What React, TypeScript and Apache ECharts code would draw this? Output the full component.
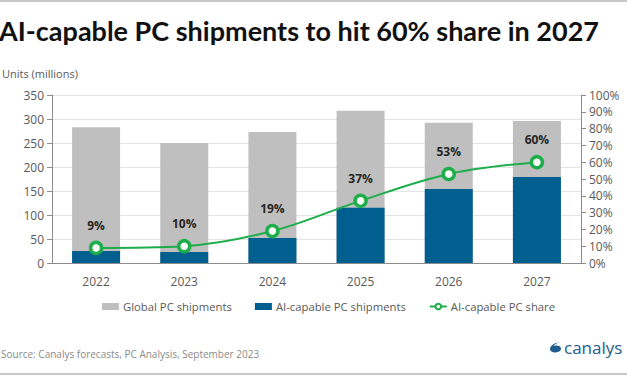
import React, { useEffect, useRef } from "react";
import * as echarts from "echarts";

const categories = ["2022", "2023", "2024", "2025", "2026", "2027"];
const globalShipments = [283, 250, 273, 317, 292, 296];
const aiShipments = [25, 23, 52, 115, 154, 179];
const aiShare = [9, 10, 19, 37, 53, 60];

const logoPath =
  "M10 0 C4 1 0 5 0 9 C0 11.5 2.5 13 5.5 13 C9 13 11 11 11 8.5 C11 6 9 4.5 6.5 4.5 C5 4.5 4 5 3.3 5.6 C4.5 3 7 1.2 10 0 Z";

export default function App() {
  const ref = useRef<HTMLDivElement>(null);
  useEffect(() => {
    if (!ref.current) return;
    echarts.graphic.registerShape("logo", echarts.graphic.extendPath(logoPath, {}) as any);
    const chart = echarts.init(ref.current, null, { renderer: "svg" });
    const axisTextColor = "#595959";
    const font = "'Open Sans', sans-serif";
    chart.setOption({
      animation: false,
      backgroundColor: "#ffffff",
      textStyle: { fontFamily: font },
      grid: { left: 52, right: 46, top: 95, bottom: 113 },
      xAxis: {
        type: "category",
        data: categories,
        boundaryGap: true,
        axisLine: { lineStyle: { color: "#8c8c8c", width: 1 } },
        axisTick: { show: false },
        axisLabel: { color: axisTextColor, fontSize: 12, margin: 12, fontFamily: font },
      },
      yAxis: [
        {
          type: "value",
          min: 0,
          max: 350,
          interval: 50,
          axisLine: { show: true, lineStyle: { color: "#8c8c8c" } },
          axisTick: { show: true, inside: false, length: 5, lineStyle: { color: "#8c8c8c" } },
          axisLabel: { color: axisTextColor, fontSize: 12, margin: 8, fontFamily: font },
          splitLine: { show: true, lineStyle: { color: "#e4e4e4", width: 1 } },
        },
        {
          type: "value",
          min: 0,
          max: 100,
          interval: 10,
          position: "right",
          axisLine: { show: true, lineStyle: { color: "#8c8c8c" } },
          axisTick: { show: true, length: 5, lineStyle: { color: "#8c8c8c" } },
          axisLabel: { color: axisTextColor, fontSize: 12, margin: 8, formatter: "{value}%", fontFamily: font },
          splitLine: { show: false },
        },
      ],
      legend: {
        left: 97,
        top: 296,
        itemWidth: 17,
        itemHeight: 7,
        itemGap: 23,
        textStyle: { color: axisTextColor, fontSize: 11.3, fontFamily: font, padding: [0, 0, 0, -1] },
        data: [
          { name: "Global PC shipments", icon: "rect" },
          { name: "AI-capable PC shipments", icon: "rect" },
          { name: "AI-capable PC share" },
        ],
      },
      series: [
        {
          name: "Global PC shipments",
          type: "bar",
          data: globalShipments,
          barWidth: 48,
          barGap: "-100%",
          itemStyle: { color: "#bfbfbf" },
          z: 1,
        },
        {
          name: "AI-capable PC shipments",
          type: "bar",
          data: aiShipments,
          barWidth: 48,
          barGap: "-100%",
          itemStyle: { color: "#005f8f" },
          z: 2,
        },
        {
          name: "AI-capable PC share",
          type: "line",
          yAxisIndex: 1,
          data: aiShare,
          smooth: 0.35,
          symbol: "circle",
          symbolSize: 11,
          lineStyle: { color: "#1dae4b", width: 2 },
          itemStyle: { color: "#ffffff", borderColor: "#1dae4b", borderWidth: 3.5 },
          label: {
            show: true,
            position: "top",
            distance: 9,
            formatter: "{c}%",
            color: "#262626",
            fontWeight: "bold",
            fontSize: 12,
            fontFamily: font,
          },
          z: 5,
        },
      ],
      graphic: [
        { type: "rect", left: 0, top: 0, shape: { width: 627, height: 2 }, style: { fill: "#c8c8c8" } },
        { type: "rect", left: 0, top: 373, shape: { width: 627, height: 2 }, style: { fill: "#c8c8c8" } },
        {
          type: "text",
          x: -1,
          y: 30,
          style: {
            text: "AI-capable PC shipments to hit 60% share in 2027",
            font: "bold 27px Lato, 'Open Sans', sans-serif",
            fill: "#111111",
            verticalAlign: "middle",
          },
        },
        {
          type: "text",
          x: 2,
          y: 73,
          style: {
            text: "Units (millions)",
            font: "11px 'Open Sans', sans-serif",
            fill: axisTextColor,
            verticalAlign: "middle",
          },
        },
        {
          type: "text",
          x: 1,
          y: 354,
          style: {
            text: "Source: Canalys forecasts, PC Analysis, September 2023",
            font: "10px 'Open Sans', sans-serif",
            fill: "#8a8a8a",
            verticalAlign: "middle",
          },
        },
        {
          type: "logo",
          x: 550,
          y: 342,
          scaleX: 1,
          scaleY: 0.8,
          style: { fill: "#1d5e8c" },
        },
        {
          type: "text",
          x: 564,
          y: 347,
          style: {
            text: "canalys",
            font: "17px 'Open Sans', sans-serif",
            fill: "#1d5e8c",
            verticalAlign: "middle",
          },
        },
      ],
    });
    return () => chart.dispose();
  }, []);
  return <div ref={ref} style={{ width: 627, height: 376, position: "absolute", left: 0, top: 0 }} />;
}
